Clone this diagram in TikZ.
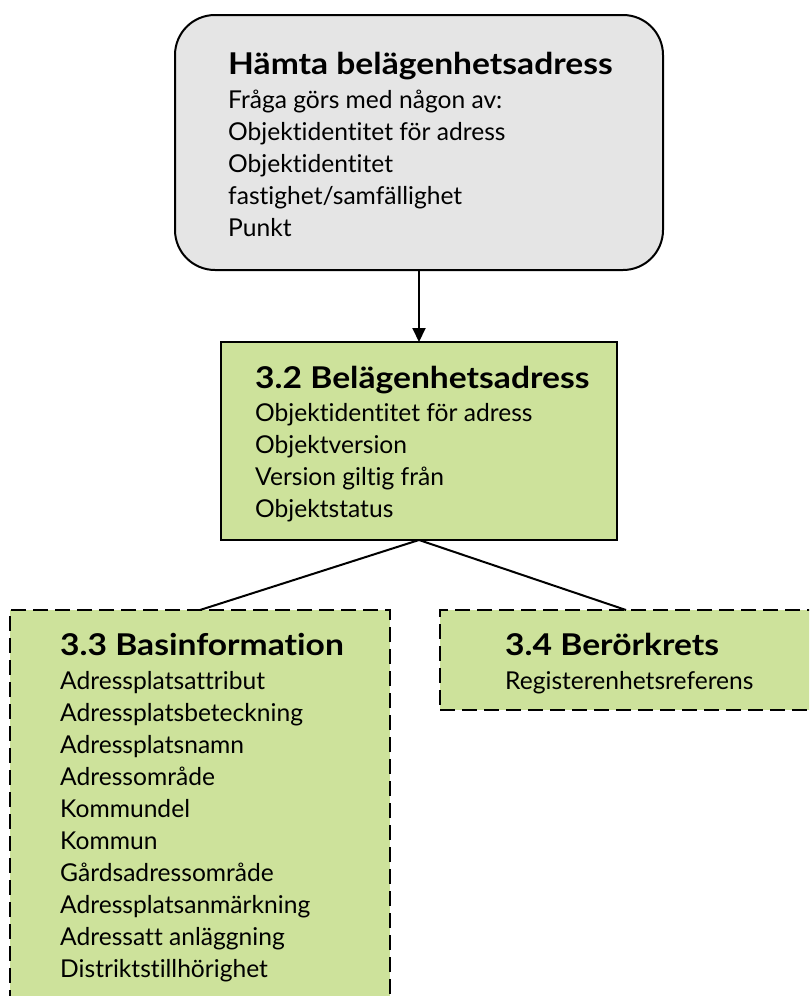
\documentclass[tikz,border=0pt]{standalone}
\usepackage{fontspec}
\setmainfont{Lato}[Ligatures=NoCommon]
\usetikzlibrary{arrows.meta}
\definecolor{boxgreen}{RGB}{205,226,155}
\definecolor{boxgray}{RGB}{229,229,229}
\newcommand{\ttltext}[1]{\scalebox{1.12}[1]{#1}}
\begin{document}
\begin{tikzpicture}[x=1pt,y=-1pt,
  box/.style={draw=black, line width=2pt, inner sep=0pt, outer sep=0pt},
  dbox/.style={box, line width=2.5pt, dash pattern=on 15pt off 7pt},
  ttl/.style={anchor=base west, inner sep=0pt, font=\fontsize{30}{34}\selectfont\bfseries},
  txt/.style={anchor=base west, inner sep=0pt, font=\fontsize{24.6}{32}\selectfont},
  conn/.style={line width=2pt}]
\useasboundingbox (0,0) rectangle (809,996);
\clip (0,0) rectangle (809,996);
% boxes
\node[box, fill=boxgray, rounded corners=40pt, minimum width=488pt, minimum height=255pt] (top) at (419,142.5) {};
\node[box, fill=boxgreen, minimum width=396pt, minimum height=198pt] (mid) at (419,441) {};
\node[dbox, fill=boxgreen, minimum width=380pt, minimum height=400pt] (left) at (200,810) {};
\node[dbox, fill=boxgreen, minimum width=372pt, minimum height=100pt] (right) at (626,660) {};
% connectors
\draw[conn, -{Triangle[width=13pt,length=14pt]}] (top.south) -- (mid.north);
\draw[conn] (mid.south) -- (left.north);
\draw[conn] (mid.south) -- (right.north);
% top texts
\node[ttl] (t0) at (228,74) {\ttltext{Hämta belägenhetsadress}};
\foreach \s [count=\i] in {Fråga görs med någon av:, Objektidentitet för adress, Objektidentitet, fastighet/samfällighet, Punkt}
  \node[txt] (t\i) at ({228},{108+32*(\i-1)}) {\s};
% middle texts
\node[ttl] (m0) at (255,388) {\ttltext{3.2 Belägenhetsadress}};
\foreach \s [count=\i] in {Objektidentitet för adress, Objektversion, Version giltig från, Objektstatus}
  \node[txt] (m\i) at ({255},{421+32*(\i-1)}) {\s};
% left texts
\node[ttl] (l0) at (60,655) {\ttltext{3.3 Basinformation}};
\foreach \s [count=\i] in {Adressplatsattribut, Adressplatsbeteckning, Adressplatsnamn, Adressområde, Kommundel, Kommun, Gårdsadressområde, Adressplatsanmärkning, Adressatt anläggning, Distriktstillhörighet}
  \node[txt] (l\i) at ({60},{689+32*(\i-1)}) {\s};
% right texts
\node[ttl] (r0) at (505,655) {\ttltext{3.4 Berörkrets}};
\node[txt] (r1) at (505,689) {Registerenhetsreferens};
\end{tikzpicture}
\end{document}
